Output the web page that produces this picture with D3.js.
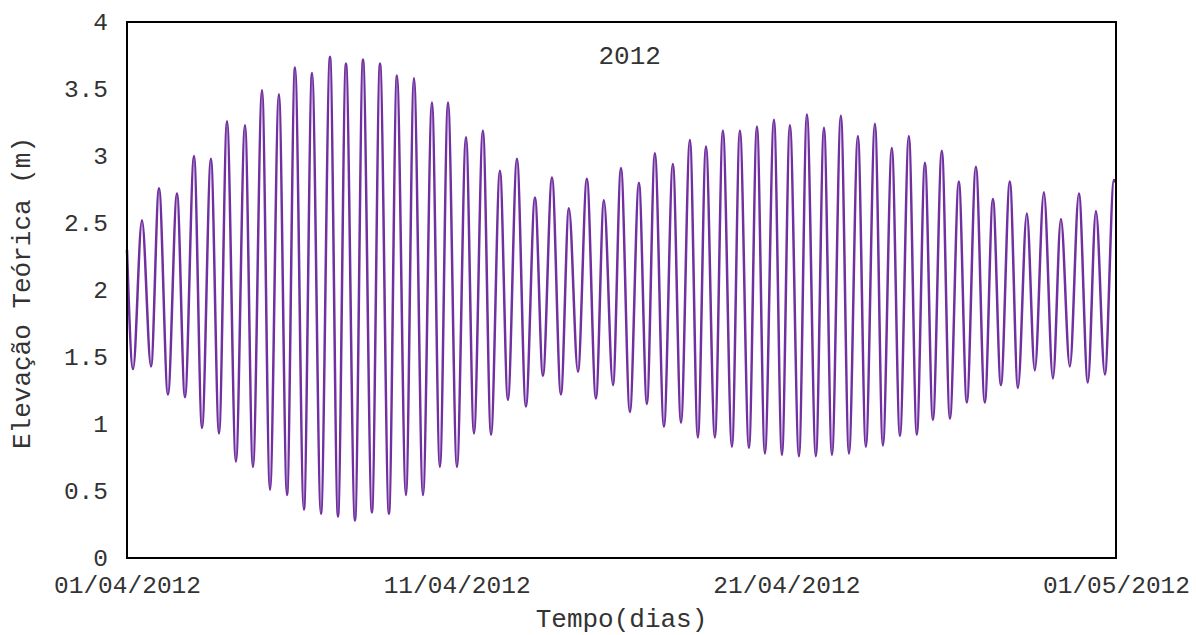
<!DOCTYPE html>
<html>
<head>
<meta charset="utf-8">
<script src="https://cdn.jsdelivr.net/npm/d3@7"></script>
<style>
  body { margin: 0; background: #fff; }
  svg text { font-family: "Liberation Mono", "Courier New", monospace; fill: #333; }
  .axis path, .axis line { display: none; }
</style>
</head>
<body>
<svg id="chart" width="1196" height="635"></svg>
<script>
let margin = {top: 22, bottom: 77, left: 127, right: 80};
let svgWidth = 1196;
let svgHeight = 635;
let width = svgWidth - margin.left - margin.right;
let height = svgHeight - margin.top - margin.bottom;

// horas desde 01/04/2012 00:00 (início, preamares/baixa-mares, fim)
let horas = [0, 4.4, 10.9, 17.5, 23.3, 29.8, 36.4, 42.2, 48.8, 54.6, 61.1, 67.0, 72.8, 79.3, 85.9, 91.7,
  98.3, 104.1, 110.6, 116.5, 122.3, 128.8, 134.7, 141.2, 147.8, 153.6, 159.4, 166.0, 171.8, 178.3, 184.2,
  190.7, 196.5, 203.1, 208.9, 215.5, 222.0, 227.8, 233.7, 240.2, 246.8, 252.6, 259.1, 265.0, 271.5, 277.3,
  283.9, 290.4, 297.0, 302.8, 309.4, 315.9, 321.7, 328.3, 334.8, 341.4, 347.2, 353.8, 359.6, 366.1, 372.7,
  378.5, 384.3, 390.9, 397.4, 403.3, 409.8, 415.6, 421.5, 428.0, 433.8, 440.4, 446.2, 452.8, 458.6, 464.4,
  471.0, 476.8, 482.6, 489.2, 495.0, 501.5, 507.4, 513.2, 519.7, 525.6, 532.1, 537.9, 544.5, 550.3, 556.8,
  562.7, 569.2, 575.0, 580.9, 586.7, 593.2, 599.1, 605.6, 611.4, 618.0, 624.5, 630.4, 636.2, 642.7, 648.6,
  655.1, 660.9, 667.5, 674.1, 679.9, 686.4, 693.0, 699.5, 705.4, 711.9, 718.5, 720];
let elevacao = [2.30, 1.41, 2.52, 1.43, 2.76, 1.22, 2.72, 1.20, 3.00, 0.97, 2.98, 0.93, 3.26, 0.72, 3.23, 0.68,
  3.49, 0.51, 3.46, 0.47, 3.66, 0.36, 3.62, 0.33, 3.74, 0.31, 3.69, 0.28, 3.72, 0.34, 3.69,
  0.33, 3.60, 0.47, 3.58, 0.47, 3.40, 0.68, 3.40, 0.68, 3.14, 0.93, 3.19, 0.92, 2.89, 1.18,
  2.98, 1.13, 2.69, 1.36, 2.84, 1.22, 2.61, 1.39, 2.83, 1.19, 2.67, 1.29, 2.91, 1.09, 2.80,
  1.15, 3.02, 0.98, 2.94, 1.01, 3.12, 0.90, 3.07, 0.90, 3.19, 0.83, 3.19, 0.82, 3.22, 0.78,
  3.27, 0.77, 3.23, 0.76, 3.31, 0.76, 3.21, 0.77, 3.30, 0.78, 3.15, 0.83, 3.24, 0.84, 3.06,
  0.91, 3.15, 0.92, 2.95, 1.03, 3.04, 1.04, 2.81, 1.16, 2.92, 1.16, 2.68, 1.29, 2.81, 1.27,
  2.57, 1.40, 2.73, 1.34, 2.53, 1.43, 2.72, 1.31, 2.59, 1.37, 2.82, 2.80];

let datasX = ['2012-04-01', '2012-04-11', '2012-04-21', '2012-05-01'];
let yTicks = [0, 0.5, 1, 1.5, 2, 2.5, 3, 3.5, 4];
let titulo = '2012';

let inicio = new Date(2012, 3, 1);
let data = horas.map((h, i) => ({t: new Date(inicio.getTime() + h * 3600000), v: elevacao[i]}));

let xScale = d3.scaleTime().domain([inicio, new Date(2012, 4, 1)]).range([0, width]);
let yScale = d3.scaleLinear().domain([0, 4]).range([height, 0]);

let svg = d3.select('#chart').append('g').attr('transform', `translate(${margin.left},${margin.top})`);

let xAxis = svg.append('g')
  .attr('class', 'axis')
  .attr('transform', `translate(0,${height})`)
  .call(d3.axisBottom(xScale)
    .tickValues(datasX.map(d => d3.timeParse('%Y-%m-%d')(d)))
    .tickFormat(d3.timeFormat('%d/%m/%Y'))
    .tickSize(0).tickPadding(18));
xAxis.selectAll('text').attr('font-size', '24.5px');

let yAxis = svg.append('g')
  .attr('class', 'axis')
  .call(d3.axisLeft(yScale).tickValues(yTicks).tickFormat(d3.format('')).tickSize(0).tickPadding(19));
yAxis.selectAll('text').attr('font-size', '24.5px');

// curva da maré
let line = d3.line()
  .x(d => xScale(d.t))
  .y(d => yScale(d.v))
  .curve(d3.curveMonotoneX);

svg.append('path')
  .datum(data)
  .attr('d', line)
  .attr('fill', 'none')
  .attr('stroke', '#7030a0')
  .attr('stroke-width', 2.5);

// moldura
svg.append('rect')
  .attr('x', 0).attr('y', 0)
  .attr('width', width).attr('height', height)
  .attr('fill', 'none')
  .attr('stroke', '#000')
  .attr('stroke-width', 2);

svg.append('text')
  .attr('x', xScale(new Date(2012, 3, 16, 6)))
  .attr('y', 42)
  .attr('text-anchor', 'middle')
  .attr('font-size', '26px')
  .text(titulo);

svg.append('text')
  .attr('x', width / 2)
  .attr('y', height + 69)
  .attr('text-anchor', 'middle')
  .attr('font-size', '26px')
  .text('Tempo(dias)');

svg.append('text')
  .attr('transform', `translate(${30 - margin.left},${height / 2 + 3}) rotate(-90)`)
  .attr('text-anchor', 'middle')
  .attr('font-size', '26px')
  .text('Elevação Teórica (m)');
</script>
</body>
</html>
